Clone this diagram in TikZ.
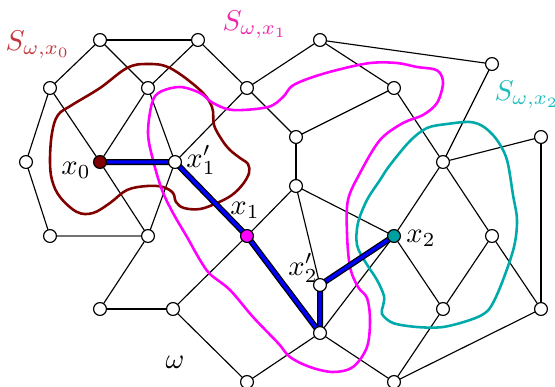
\documentclass[tikz,border=0pt]{standalone}
\definecolor{maroonc}{RGB}{128,0,0}
\definecolor{labred}{RGB}{195,55,60}
\definecolor{magc}{RGB}{255,0,255}
\definecolor{labmag}{RGB}{238,40,170}
\definecolor{cyc}{RGB}{0,170,170}
\definecolor{labcy}{RGB}{30,190,190}
\definecolor{tealfill}{RGB}{0,160,160}
\begin{document}
\begin{tikzpicture}[x=0.35pt,y=-0.35pt,
  vtx/.style={circle,draw=black,fill=white,inner sep=0pt,minimum size=4.5pt,line width=0.4pt},
  edge/.style={line width=0.4pt,black},
  grayedge/.style={line width=0.55pt,black!55},
  blob/.style={line width=0.9pt},
  pathout/.style={line width=2.1pt,black},
  pathin/.style={line width=1.2pt,blue}]
\useasboundingbox (0,0) rectangle (555,386);
% coordinates of nodes
\coordinate (pA) at (100,40);
\coordinate (pB) at (198,40);
\coordinate (pC) at (50,88);
\coordinate (pD) at (148,88);
\coordinate (pE) at (247,88);
\coordinate (pF) at (26,162);
\coordinate (px0) at (100,162);
\coordinate (px1p) at (175,162);
\coordinate (pG) at (320,40);
\coordinate (pH) at (492,64);
\coordinate (pI) at (394,88);
\coordinate (pJ) at (296,137);
\coordinate (pK) at (443,162);
\coordinate (pL) at (541,137);
\coordinate (pM) at (296,186);
\coordinate (pN) at (50,236);
\coordinate (pO) at (148,236);
\coordinate (px1) at (247,236);
\coordinate (pP) at (100,309);
\coordinate (pQ) at (173,309);
\coordinate (pR) at (247,382);
\coordinate (px2) at (394,236);
\coordinate (px2p) at (320,285);
\coordinate (pT) at (320,333);
\coordinate (pU) at (443,309);
\coordinate (pV) at (492,236);
\coordinate (pW) at (541,309);
\coordinate (pX) at (394,382);
% thin edges
\foreach \a/\b in {pA/pB,pA/pC,pA/pD,pB/pD,pB/pE,pC/pF,pC/px0,pD/px0,pD/px1p,pE/px1p,pE/pG,pE/pJ,
  pG/pH,pG/pI,pI/pJ,pI/pK,pH/pK,pK/pL,pJ/pM,pM/px1,pM/px2,pM/px2p,pF/pN,px0/pO,px1p/pO,
  pO/pP,pP/pQ,pQ/px1,pQ/pR,pR/pT,pT/pX,px2/pT,px2/pK,px2/pU,pK/pV,pV/pU,pV/pW,pL/pW,pU/pX,pW/pX}
  \draw[edge] (\a) -- (\b);
\draw[grayedge] (pN) -- (pO);
% blobs
\draw[blob,maroonc] plot[smooth cycle,tension=0.6] coordinates {
 (127,68) (147,64) (170,68) (200,90) (212,107) (214,125) (222,140) (230,150) (240,158) (248,164)
 (249,173) (243,184) (232,195) (217,203) (200,209) (184,208) (176,202) (173,193) (163,187)
 (147,186) (127,190) (110,203) (93,213) (77,212) (60,197) (52,180) (50,160) (52,133) (58,115)
 (72,105) (100,88)};
\draw[blob,magc] plot[smooth cycle,tension=0.55] coordinates {
 (152,103) (160,92) (180,87) (200,93) (213,103) (233,110) (268,107) (283,97) (292,86) (310,78)
 (337,70) (370,63) (397,63) (417,67) (433,69) (440,73) (443,84) (437,103) (423,115) (403,123)
 (380,140) (360,173) (348,200) (347,233) (350,267) (358,287) (367,298) (370,320) (367,347)
 (353,367) (333,372) (310,367) (290,357) (278,343) (253,317) (230,290) (210,274) (200,260)
 (187,237) (173,213) (162,190) (153,160) (148,133)};
\draw[blob,cyc] plot[smooth cycle,tension=0.55] coordinates {
 (427,128) (447,124) (470,122) (484,127) (497,140) (507,160) (513,195) (517,220) (514,247)
 (503,280) (493,303) (485,313) (470,320) (443,327) (417,327) (393,323) (382,314) (383,306)
 (384,296) (377,280) (366,263) (357,245) (358,223) (367,200) (380,180) (390,165) (410,141)};
% blue path
\draw[pathout,line join=round] (px0) -- (px1p) -- (px1) -- (pT) -- (px2p) -- (px2);
\draw[pathin,line join=round] (px0) -- (px1p) -- (px1) -- (pT) -- (px2p) -- (px2);
% nodes
\foreach \n in {pA,pB,pC,pD,pE,pF,px1p,pG,pH,pI,pJ,pK,pL,pM,pN,pO,pP,pQ,pR,px2p,pT,pU,pV,pW,pX}
  \node[vtx] (n\n) at (\n) {};
\node[vtx,fill=maroonc] (nx0) at (px0) {};
\node[vtx,fill=magc] (nx1) at (px1) {};
\node[vtx,fill=tealfill] (nx2) at (px2) {};
% labels
\node (lx0) at (76,170) {$x_0$};
\node (lx1p) at (201,160) {$x_1'$};
\node (lx1) at (245,210) {$x_1$};
\node (lx2p) at (303,268) {$x_2'$};
\node (lx2) at (421,238) {$x_2$};
\node (lom) at (175,362) {$\omega$};
\node[text=labred] (ls0) at (38,45) {$S_{\omega,x_0}$};
\node[text=labmag] (ls1) at (255,25) {$S_{\omega,x_1}$};
\node[text=labcy] (ls2) at (527,95) {$S_{\omega,x_2}$};
\end{tikzpicture}
\end{document}
